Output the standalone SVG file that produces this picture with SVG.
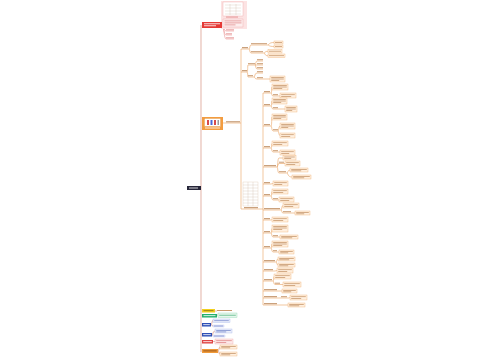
<svg xmlns="http://www.w3.org/2000/svg" width="500" height="360" viewBox="0 0 500 360">
<style>
.tr{stroke:#e7bfb5;stroke-width:1.2;fill:none}
.ln{stroke:#e9a160;stroke-width:0.6;fill:none}
.rl{stroke:#ec9898;stroke-width:0.6;fill:none}
.bx{fill:#fff0e0;stroke:#efb277;stroke-width:0.4}
.t{fill:#c99a70}
.lb{fill:#bd8a5e}
.w{fill:#ffffff}
.gr{stroke:#c9b2a0;stroke-width:0.3;fill:none}
</style>
<rect width="500" height="360" fill="#ffffff"/>
<g id="connectors">
<path class="tr" d="M201 25V352"/>
<path class="rl" d="M222 24C223 24 222.5 9 223 9M222 24C223 24 222.5 23 223 23M222 26C224 26 224 31 226 31H234M222 26C224 26 224 35 226 35H232M222 26C224 26 224 39 226 39H234"/>
<path class="ln" d="M223 123H241M241 49V209M241 209H263M263 93V305"/>
<path class="ln" d="M241 49H249C250 49 249.5 45 251 45H268C269 45 268.5 42.5 274 42.5M268 45C269 45 268.5 46.5 274 46.5M249 49C250 49 249.5 53 251 53H264C265 53 264.5 51.3 268 51.3M264 53C265 53 264.5 55.8 268 55.8"/>
<path class="ln" d="M241 72H247C248 72 247.5 65 248 65H255C256 65 255.5 61 257 61H263M255 65H263M255 65C256 65 255.5 69 257 69H263M247 72C248 72 247.5 77 248 77H254C255 77 254.5 73 257 73H263M254 77C255 77 254.5 79 257 79H270"/>
<path class="ln" d="M263 93H271C272 93 271.5 87 272 87M271 93C272 93 271.5 96 273 96H280"/>
<path class="ln" d="M263 106H271C272 106 271.5 101 272 101M271 106C272 106 271.5 109 273 109H285"/>
<path class="ln" d="M263 126H271C272 126 271.5 117 272 117M271 126C272 126 271.5 131 273 131H278C279 131 278.5 126 280 126M278 131C279 131 278.5 135.5 280 135.5"/>
<path class="ln" d="M263 148H271C272 148 271.5 143.5 272 143.5M271 148C272 148 271.5 152 273 152H280"/>
<path class="ln" d="M263 167H277C278 167 277.5 158 279 158H283M277 167C278 167 277.5 163.5 279 163.5H285M277 167C278 167 277.5 173 279 173H287C288 173 287.5 170 290 170M287 173C288 173 287.5 177 292 177"/>
<path class="ln" d="M263 184H271C272 184 272 183.5 273 183.5"/>
<path class="ln" d="M263 196H271C272 196 271.5 191.5 272 191.5M271 196C272 196 271.5 200 273 200H279"/>
<path class="ln" d="M263 210H281C282 210 281.5 205.5 283 205.5M281 210C282 210 281.5 213 283 213H295"/>
<path class="ln" d="M263 220H271C272 220 271.5 219.5 272 219.5"/>
<path class="ln" d="M263 233H271C272 233 271.5 228.5 272 228.5M271 233C272 233 271.5 237 273 237H280"/>
<path class="ln" d="M263 248H271C272 248 271.5 244 272 244M271 248C272 248 271.5 252 273 252H279"/>
<path class="ln" d="M263 262H276C277 262 276.5 259 278 259M276 262C277 262 276.5 265 278 265"/>
<path class="ln" d="M263 271H275C276 271 276 270.5 277 270.5"/>
<path class="ln" d="M263 281H273C274 281 273.5 276.5 274 276.5M273 281C274 281 273.5 284.5 275 284.5H283"/>
<path class="ln" d="M263 291H282"/>
<path class="ln" d="M263 298H289C289.5 298 289.5 297.5 290 297.5"/>
<path class="ln" d="M263 305H288"/>
<path class="tr" d="M215 311H217M217 315H218M211 324.5C212 324.5 212 320.5 213 320.5M211 324.5C212 324.5 212 326 213 326M212 334.5C213 334.5 213 331 215 331M212 334.5C213 334.5 213 336 213 336M213 341.5H215M218 351C219 351 219 347 220 347M218 351C219 351 219 354 220 354"/>
</g>
<g id="root"><rect x="187" y="186" width="14" height="4" fill="#262639"/><rect x="189" y="187.6" width="9" height="0.8" class="w"/></g>
<g id="n-red">
<rect x="221" y="1" width="26" height="28" fill="#fce3e3"/>
<rect x="202" y="22" width="20" height="6" fill="#e53935"/>
<rect x="204" y="23.4" width="16" height="0.8" class="w"/><rect x="204" y="25.4" width="12" height="0.8" class="w"/>
<rect x="223" y="2" width="20" height="14" fill="#ffffff" stroke="#f0a8a8" stroke-width="0.4"/>
<path class="gr" d="M225 5H241M225 8H241M225 11H241M225 14H241M230 4V15M236 4V15"/>
<rect x="226" y="16.6" width="12" height="0.9" fill="#e39090"/>
<rect x="223" y="19" width="20" height="8" fill="#fdeeee" stroke="#f0a8a8" stroke-width="0.4"/>
<rect x="224.5" y="20.5" width="17" height="0.8" fill="#e39090"/><rect x="224.5" y="22.5" width="17" height="0.8" fill="#e39090"/><rect x="224.5" y="24.5" width="11" height="0.8" fill="#e39090"/>
<rect x="226" y="29.4" width="8" height="0.9" fill="#e39090"/><rect x="226" y="33.4" width="6" height="0.9" fill="#e39090"/><rect x="226" y="37.4" width="8" height="0.9" fill="#e39090"/>
</g>
<g id="n-orange">
<rect x="202" y="117" width="21" height="13" fill="#f39c3f"/>
<rect x="204.5" y="118.5" width="16" height="8" fill="#ffffff" stroke="#d88a3a" stroke-width="0.3"/>
<rect x="207" y="120" width="2" height="5" fill="#d84a4a"/><rect x="210.5" y="120" width="2" height="5" fill="#4a6ad8"/><rect x="214" y="120" width="2" height="5" fill="#d84a4a"/><rect x="217.5" y="120" width="1.5" height="5" fill="#9a9a9a"/>
<rect x="205" y="127.6" width="15" height="0.8" class="w"/>
<rect x="226" y="121.3" width="14" height="1" class="lb"/>
</g>
<g id="labels">
<rect x="242" y="47.2" width="6" height="1" class="lb"/>
<rect x="251" y="43.2" width="16" height="1" class="t"/>
<rect x="251" y="51.2" width="12" height="1" class="t"/>
<rect x="242" y="70.2" width="5" height="1" class="lb"/>
<rect x="248" y="63.2" width="7" height="1" class="t"/>
<rect x="248" y="75.2" width="5" height="1" class="t"/>
<rect x="257" y="59.2" width="6" height="1" class="t"/><rect x="257" y="63.2" width="6" height="1" class="t"/><rect x="257" y="67.2" width="6" height="1" class="t"/>
<rect x="257" y="71.2" width="6" height="1" class="t"/><rect x="257" y="77.2" width="6" height="1" class="t"/>
<rect x="244" y="207.2" width="14" height="1" class="lb"/>
<rect x="264" y="91.2" width="6" height="1" class="lb"/><rect x="273" y="94.2" width="5" height="1" class="t"/>
<rect x="264" y="104.2" width="6" height="1" class="lb"/><rect x="273" y="107.2" width="5" height="1" class="t"/>
<rect x="264" y="124.2" width="6" height="1" class="lb"/><rect x="273" y="129.2" width="5" height="1" class="t"/>
<rect x="264" y="146.2" width="6" height="1" class="lb"/><rect x="273" y="150.2" width="5" height="1" class="t"/>
<rect x="264" y="165.2" width="12" height="1" class="lb"/><rect x="279" y="161.7" width="5" height="1" class="t"/><rect x="279" y="171.2" width="7" height="1" class="t"/>
<rect x="264" y="182.2" width="6" height="1" class="lb"/>
<rect x="264" y="194.2" width="6" height="1" class="lb"/><rect x="273" y="198.2" width="5" height="1" class="t"/>
<rect x="264" y="208.2" width="16" height="1" class="lb"/><rect x="283" y="211.2" width="8" height="1" class="t"/>
<rect x="264" y="218.2" width="6" height="1" class="lb"/>
<rect x="264" y="231.2" width="6" height="1" class="lb"/><rect x="273" y="235.2" width="5" height="1" class="t"/>
<rect x="264" y="246.2" width="6" height="1" class="lb"/><rect x="273" y="250.2" width="4" height="1" class="t"/>
<rect x="264" y="260.2" width="11" height="1" class="lb"/>
<rect x="264" y="269.2" width="9" height="1" class="lb"/>
<rect x="264" y="279.2" width="8" height="1" class="lb"/><rect x="275" y="282.7" width="5" height="1" class="t"/>
<rect x="264" y="289.2" width="13" height="1" class="lb"/>
<rect x="264" y="296.2" width="13" height="1" class="lb"/><rect x="281" y="296.2" width="6" height="1" class="t"/>
<rect x="264" y="303.2" width="13" height="1" class="lb"/>
</g>
<g id="n-table">
<rect x="243" y="182" width="15" height="24" fill="#ffffff" stroke="#d8bca2" stroke-width="0.3"/>
<path class="gr" d="M243 185H258M243 188H258M243 191H258M243 194H258M243 197H258M243 200H258M243 203H258M248 182V206M253 182V206"/>
</g>
<g id="n-a1"><rect class="bx" x="274" y="41" width="9" height="3"/><rect class="t" x="275" y="42.1" width="7" height="0.8"/></g>
<g id="n-a2"><rect class="bx" x="274" y="45" width="9" height="3"/><rect class="t" x="275" y="46.1" width="7" height="0.8"/></g>
<g id="n-a3"><rect class="bx" x="268" y="49.5" width="14" height="3.5"/><rect class="t" x="269" y="50.8" width="12" height="0.8"/></g>
<g id="n-a4"><rect class="bx" x="268" y="54" width="17" height="3.5"/><rect class="t" x="269" y="55.3" width="15" height="0.8"/></g>
<g id="n-bb"><rect class="bx" x="270" y="76" width="15" height="6"/><rect class="t" x="271.2" y="77" width="12.6" height="0.8"/><rect class="t" x="271.2" y="78.6" width="12.6" height="0.8"/><rect class="t" x="271.2" y="80.2" width="8" height="0.8"/></g>
<g id="n-b1"><rect class="bx" x="272" y="84" width="16" height="6"/><rect class="t" x="273.2" y="85" width="13.6" height="0.8"/><rect class="t" x="273.2" y="86.6" width="13.6" height="0.8"/><rect class="t" x="273.2" y="88.2" width="9" height="0.8"/></g>
<g id="n-b2"><rect class="bx" x="280" y="93" width="16" height="5"/><rect class="t" x="281.2" y="94.3" width="13.6" height="0.8"/><rect class="t" x="281.2" y="96" width="10" height="0.8"/></g>
<g id="n-b3"><rect class="bx" x="272" y="98" width="15" height="6"/><rect class="t" x="273.2" y="99" width="12.6" height="0.8"/><rect class="t" x="273.2" y="100.6" width="12.6" height="0.8"/><rect class="t" x="273.2" y="102.2" width="8" height="0.8"/></g>
<g id="n-b4"><rect class="bx" x="285" y="106" width="12" height="6"/><rect class="t" x="286.2" y="107" width="9.6" height="0.8"/><rect class="t" x="286.2" y="108.6" width="9.6" height="0.8"/><rect class="t" x="286.2" y="110.2" width="6" height="0.8"/></g>
<g id="n-b5"><rect class="bx" x="272" y="114" width="15" height="6"/><rect class="t" x="273.2" y="115" width="12.6" height="0.8"/><rect class="t" x="273.2" y="116.6" width="12.6" height="0.8"/><rect class="t" x="273.2" y="118.2" width="8" height="0.8"/></g>
<g id="n-b6"><rect class="bx" x="280" y="123" width="15" height="6"/><rect class="t" x="281.2" y="124" width="12.6" height="0.8"/><rect class="t" x="281.2" y="125.6" width="12.6" height="0.8"/><rect class="t" x="281.2" y="127.2" width="7" height="0.8"/></g>
<g id="n-b7"><rect class="bx" x="280" y="133" width="15" height="5"/><rect class="t" x="281.2" y="134.3" width="12.6" height="0.8"/><rect class="t" x="281.2" y="136" width="9" height="0.8"/></g>
<g id="n-b8"><rect class="bx" x="272" y="141" width="16" height="5"/><rect class="t" x="273.2" y="142.3" width="13.6" height="0.8"/><rect class="t" x="273.2" y="144" width="9" height="0.8"/></g>
<g id="n-b9"><rect class="bx" x="280" y="150" width="15" height="5"/><rect class="t" x="281.2" y="151.3" width="12.6" height="0.8"/><rect class="t" x="281.2" y="153" width="8" height="0.8"/></g>
<g id="n-b10"><rect class="bx" x="283" y="155.5" width="13" height="4.5"/><rect class="t" x="284.2" y="156.6" width="10.6" height="0.8"/><rect class="t" x="284.2" y="158.2" width="7" height="0.8"/></g>
<g id="n-b11"><rect class="bx" x="285" y="161" width="15" height="5"/><rect class="t" x="286.2" y="162.3" width="12.6" height="0.8"/><rect class="t" x="286.2" y="164" width="9" height="0.8"/></g>
<g id="n-b12"><rect class="bx" x="290" y="168" width="18" height="4"/><rect class="t" x="291.2" y="169" width="15.6" height="0.8"/><rect class="t" x="291.2" y="170.4" width="10" height="0.8"/></g>
<g id="n-b13"><rect class="bx" x="292" y="175" width="19" height="4"/><rect class="t" x="293.2" y="176" width="16.6" height="0.8"/><rect class="t" x="293.2" y="177.4" width="11" height="0.8"/></g>
<g id="n-b14"><rect class="bx" x="273" y="181" width="15" height="5"/><rect class="t" x="274.2" y="182.3" width="12.6" height="0.8"/><rect class="t" x="274.2" y="184" width="8" height="0.8"/></g>
<g id="n-b15"><rect class="bx" x="272" y="189" width="16" height="5"/><rect class="t" x="273.2" y="190.3" width="13.6" height="0.8"/><rect class="t" x="273.2" y="192" width="10" height="0.8"/></g>
<g id="n-b16"><rect class="bx" x="279" y="197" width="15" height="5"/><rect class="t" x="280.2" y="198.3" width="12.6" height="0.8"/><rect class="t" x="280.2" y="200" width="9" height="0.8"/></g>
<g id="n-b17"><rect class="bx" x="283" y="203" width="16" height="5"/><rect class="t" x="284.2" y="204.3" width="13.6" height="0.8"/><rect class="t" x="284.2" y="206" width="9" height="0.8"/></g>
<g id="n-b18"><rect class="bx" x="295" y="211" width="15" height="4"/><rect class="t" x="296.2" y="212" width="12.6" height="0.8"/><rect class="t" x="296.2" y="213.4" width="8" height="0.8"/></g>
<g id="n-b19"><rect class="bx" x="272" y="217" width="16" height="5"/><rect class="t" x="273.2" y="218.3" width="13.6" height="0.8"/><rect class="t" x="273.2" y="220" width="10" height="0.8"/></g>
<g id="n-b20"><rect class="bx" x="272" y="225" width="16" height="7"/><rect class="t" x="273.2" y="226" width="13.6" height="0.8"/><rect class="t" x="273.2" y="227.6" width="13.6" height="0.8"/><rect class="t" x="273.2" y="229.2" width="9" height="0.8"/></g>
<g id="n-b21"><rect class="bx" x="280" y="235" width="18" height="4"/><rect class="t" x="281.2" y="236" width="15.6" height="0.8"/><rect class="t" x="281.2" y="237.4" width="11" height="0.8"/></g>
<g id="n-b22"><rect class="bx" x="272" y="241" width="16" height="6"/><rect class="t" x="273.2" y="242" width="13.6" height="0.8"/><rect class="t" x="273.2" y="243.6" width="13.6" height="0.8"/><rect class="t" x="273.2" y="245.2" width="9" height="0.8"/></g>
<g id="n-b23"><rect class="bx" x="279" y="250" width="15" height="4"/><rect class="t" x="280.2" y="251" width="12.6" height="0.8"/><rect class="t" x="280.2" y="252.4" width="8" height="0.8"/></g>
<g id="n-b24"><rect class="bx" x="278" y="257" width="17" height="4"/><rect class="t" x="279.2" y="258" width="14.6" height="0.8"/><rect class="t" x="279.2" y="259.4" width="10" height="0.8"/></g>
<g id="n-b25"><rect class="bx" x="278" y="263" width="17" height="4"/><rect class="t" x="279.2" y="264" width="14.6" height="0.8"/><rect class="t" x="279.2" y="265.4" width="9" height="0.8"/></g>
<g id="n-b26"><rect class="bx" x="277" y="268" width="16" height="5"/><rect class="t" x="278.2" y="269.3" width="13.6" height="0.8"/><rect class="t" x="278.2" y="271" width="9" height="0.8"/></g>
<g id="n-b27"><rect class="bx" x="274" y="274" width="17" height="5"/><rect class="t" x="275.2" y="275.3" width="14.6" height="0.8"/><rect class="t" x="275.2" y="277" width="10" height="0.8"/></g>
<g id="n-b28"><rect class="bx" x="283" y="282" width="18" height="5"/><rect class="t" x="284.2" y="283.3" width="15.6" height="0.8"/><rect class="t" x="284.2" y="285" width="11" height="0.8"/></g>
<g id="n-b29"><rect class="bx" x="282" y="289" width="15" height="4"/><rect class="t" x="283.2" y="290" width="12.6" height="0.8"/><rect class="t" x="283.2" y="291.4" width="8" height="0.8"/></g>
<g id="n-b30"><rect class="bx" x="290" y="295" width="17" height="5"/><rect class="t" x="291.2" y="296.3" width="14.6" height="0.8"/><rect class="t" x="291.2" y="298" width="10" height="0.8"/></g>
<g id="n-b31"><rect class="bx" x="288" y="303" width="17" height="4"/><rect class="t" x="289.2" y="304" width="14.6" height="0.8"/><rect class="t" x="289.2" y="305.4" width="10" height="0.8"/></g>
<g id="n-yellow"><rect x="202" y="309" width="13" height="3.5" fill="#f2cf1f"/><rect x="203.5" y="310.3" width="10" height="0.8" fill="#8a7010"/><rect x="217" y="310" width="15" height="1" class="t"/></g>
<g id="n-green"><rect x="202" y="314" width="15" height="3.5" fill="#23b06c"/><rect x="203.5" y="315.3" width="12" height="0.8" class="w"/><rect x="218" y="313" width="19" height="4.5" fill="#e6f7ed" stroke="#8fd8ae" stroke-width="0.4"/><rect x="219.2" y="314.8" width="16.6" height="0.8" fill="#5cb888"/></g>
<g id="n-blue1"><rect x="202" y="323" width="9" height="3.5" fill="#2f4fb5"/><rect x="203.2" y="324.3" width="6.6" height="0.8" class="w"/><rect x="213" y="319" width="17" height="3.5" fill="#eaeefb" stroke="#a9b7e8" stroke-width="0.4"/><rect x="214.2" y="320.3" width="14.6" height="0.8" fill="#7f90cf"/><rect x="213" y="325" width="11" height="2" fill="#eaeefb" stroke="#a9b7e8" stroke-width="0.3"/><rect x="214" y="325.6" width="9" height="0.8" fill="#7f90cf"/></g>
<g id="n-blue2"><rect x="202" y="333" width="10" height="3.5" fill="#2f4fb5"/><rect x="203.2" y="334.3" width="7.6" height="0.8" class="w"/><rect x="215" y="329" width="17" height="4" fill="#eaeefb" stroke="#a9b7e8" stroke-width="0.4"/><rect x="216.2" y="330" width="14.6" height="0.8" fill="#7f90cf"/><rect x="216.2" y="331.5" width="10" height="0.8" fill="#7f90cf"/><rect x="213" y="335" width="12" height="2" fill="#eaeefb" stroke="#a9b7e8" stroke-width="0.3"/><rect x="214" y="335.6" width="10" height="0.8" fill="#7f90cf"/></g>
<g id="n-red2"><rect x="202" y="340" width="11" height="3.5" fill="#e04545"/><rect x="203.2" y="341.3" width="8.6" height="0.8" class="w"/><rect x="215" y="339" width="18" height="5" fill="#fdeaea" stroke="#f0a8a8" stroke-width="0.4"/><rect x="216.2" y="340.3" width="15.6" height="0.8" fill="#e08a8a"/><rect x="216.2" y="342" width="10" height="0.8" fill="#e08a8a"/></g>
<g id="n-orange2"><rect x="202" y="349" width="16" height="4" fill="#f09a3a"/><rect x="203.3" y="350.5" width="13.4" height="0.8" fill="#8a4a10"/><rect class="bx" x="220" y="345" width="17" height="4"/><rect class="t" x="221.2" y="346" width="14.6" height="0.8"/><rect class="t" x="221.2" y="347.4" width="9" height="0.8"/><rect class="bx" x="220" y="352" width="17" height="4"/><rect class="t" x="221.2" y="353" width="14.6" height="0.8"/><rect class="t" x="221.2" y="354.4" width="9" height="0.8"/></g>
</svg>
